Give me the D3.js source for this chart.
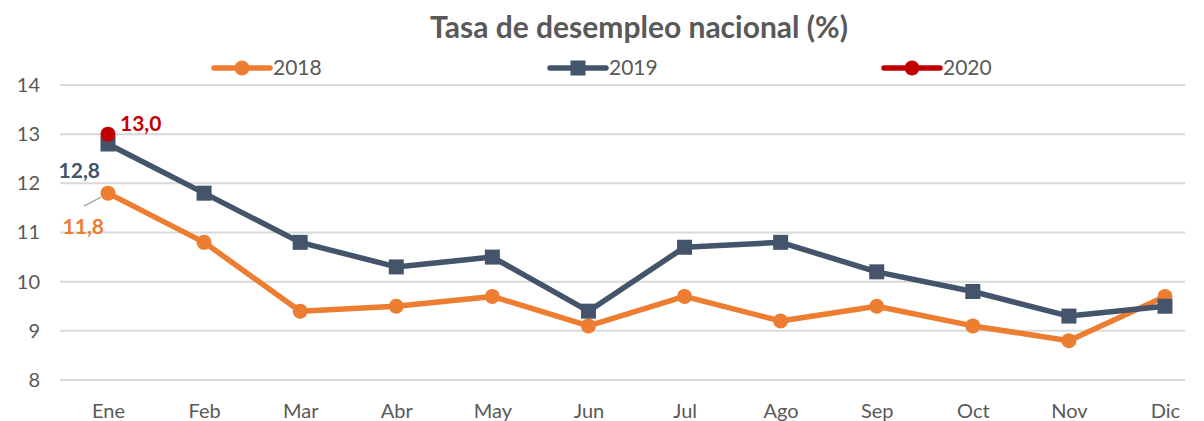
<!DOCTYPE html>
<html>
<head>
<meta charset="utf-8">
<script src="https://cdn.jsdelivr.net/npm/d3@7"></script>
<style>
  body { margin: 0; background: #fff; }
  svg { display: block; font-family: Lato, "Open Sans", sans-serif; }
</style>
</head>
<body>
<div id="chart"></div>
<script>
// Chart data
const months = ['Ene', 'Feb', 'Mar', 'Abr', 'May', 'Jun', 'Jul', 'Ago', 'Sep', 'Oct', 'Nov', 'Dic'];
const values2018 = [11.8, 10.8, 9.4, 9.5, 9.7, 9.1, 9.7, 9.2, 9.5, 9.1, 8.8, 9.7];
const values2019 = [12.8, 11.8, 10.8, 10.3, 10.5, 9.4, 10.7, 10.8, 10.2, 9.8, 9.3, 9.5];
const values2020 = [13.0];
const yTicks = [8, 9, 10, 11, 12, 13, 14];
const seriesNames = ['2018', '2019', '2020'];

const width = 1204, height = 421;
const margins = { top: 85, right: 19, bottom: 41, left: 60 };
const TEXT_COLOR = '#595959';
const colors = { '2018': '#ED7D31', '2019': '#44546A', '2020': '#C00000' };

const svg = d3.select('#chart')
    .append('svg')
    .attr('width', width)
    .attr('height', height);

const plotWidth = width - margins.left - margins.right;
const plotHeight = height - margins.top - margins.bottom;

const plotArea = svg.append('g')
    .attr('transform', `translate(${margins.left},${margins.top})`);

// Scales
const xScale = d3.scalePoint()
    .domain(months)
    .range([48, plotWidth - 20]);

const yScale = d3.scaleLinear()
    .domain([8, 14])
    .range([plotHeight, 0]);

// Gridlines
plotArea.append('g')
    .selectAll('line')
    .data(yTicks)
    .join('line')
    .attr('x1', 0)
    .attr('x2', plotWidth)
    .attr('y1', d => yScale(d))
    .attr('y2', d => yScale(d))
    .style('stroke', '#d9d9d9')
    .style('stroke-width', '2px');

// Y axis
const yAxis = plotArea.append('g')
    .call(d3.axisLeft(yScale).tickValues(yTicks).tickFormat(d3.format('d')).tickSize(0).tickPadding(20));
yAxis.select('.domain').remove();
yAxis.selectAll('text')
    .style('font-size', '20px')
    .style('font-family', 'Lato, sans-serif')
    .style('fill', TEXT_COLOR);

// X axis
const xAxis = plotArea.append('g')
    .attr('transform', `translate(0,${plotHeight})`)
    .call(d3.axisBottom(xScale).tickSize(0).tickPadding(24));
xAxis.select('.domain').remove();
xAxis.selectAll('text')
    .style('font-size', '20px')
    .style('font-family', 'Lato, sans-serif')
    .style('fill', TEXT_COLOR);

// Title
svg.append('text')
    .attr('x', 639)
    .attr('y', 38)
    .attr('text-anchor', 'middle')
    .style('font-size', '30px')
    .style('font-weight', 'bold')
    .style('fill', TEXT_COLOR)
    .text('Tasa de desempleo nacional (%)');

const line = d3.line()
    .x((d, i) => xScale(months[i]))
    .y(d => yScale(d));

function drawSeries(values, name, marker) {
    const color = colors[name];
    plotArea.append('path')
        .datum(values)
        .attr('fill', 'none')
        .attr('stroke', color)
        .attr('stroke-width', 5.5)
        .attr('stroke-linejoin', 'round')
        .attr('d', line);
    if (marker === 'circle') {
        plotArea.append('g')
            .selectAll('circle')
            .data(values)
            .join('circle')
            .attr('cx', (d, i) => xScale(months[i]))
            .attr('cy', d => yScale(d))
            .attr('r', 7.5)
            .attr('fill', color);
    } else {
        plotArea.append('g')
            .selectAll('rect')
            .data(values)
            .join('rect')
            .attr('x', (d, i) => xScale(months[i]) - 7.5)
            .attr('y', d => yScale(d) - 7.5)
            .attr('width', 15)
            .attr('height', 15)
            .attr('fill', color);
    }
}

drawSeries(values2018, '2018', 'circle');
drawSeries(values2019, '2019', 'square');
drawSeries(values2020, '2020', 'circle');

// Data labels for January
const x0 = xScale(months[0]);
plotArea.append('line')
    .attr('x1', x0 - 24)
    .attr('y1', yScale(values2018[0]) + 13)
    .attr('x2', x0 - 7)
    .attr('y2', yScale(values2018[0]) + 4)
    .style('stroke', '#a6a6a6')
    .style('stroke-width', '1.5px');

const labels = [
    { v: values2020[0], name: '2020', dx: 12, dy: -3, anchor: 'start' },
    { v: values2019[0], name: '2019', dx: -8, dy: 34, anchor: 'end' },
    { v: values2018[0], name: '2018', dx: -4, dy: 41, anchor: 'end' }
];
plotArea.append('g')
    .selectAll('text')
    .data(labels)
    .join('text')
    .attr('x', d => x0 + d.dx)
    .attr('y', d => yScale(d.v) + d.dy)
    .attr('text-anchor', d => d.anchor)
    .style('font-size', '21px')
    .style('font-weight', 'bold')
    .style('fill', d => colors[d.name])
    .text(d => d.v.toFixed(1).replace('.', ','));

// Legend
const legendX = [214, 550, 884];
const legendMarkers = ['circle', 'square', 'circle'];
const legend = svg.append('g')
    .selectAll('g')
    .data(seriesNames)
    .join('g')
    .attr('transform', (d, i) => `translate(${legendX[i]},68)`);

legend.append('line')
    .attr('x1', 0)
    .attr('x2', 56)
    .attr('stroke', d => colors[d])
    .attr('stroke-width', 5.5)
    .attr('stroke-linecap', 'round');

legend.each(function (d, i) {
    const g = d3.select(this);
    if (legendMarkers[i] === 'circle') {
        g.append('circle').attr('cx', 28).attr('r', 7.5).attr('fill', colors[d]);
    } else {
        g.append('rect').attr('x', 20.5).attr('y', -7.5).attr('width', 15).attr('height', 15).attr('fill', colors[d]);
    }
});

legend.append('text')
    .attr('x', 59)
    .attr('y', 7)
    .style('font-size', '21px')
    .style('fill', TEXT_COLOR)
    .text(d => d);
</script>
</body>
</html>
